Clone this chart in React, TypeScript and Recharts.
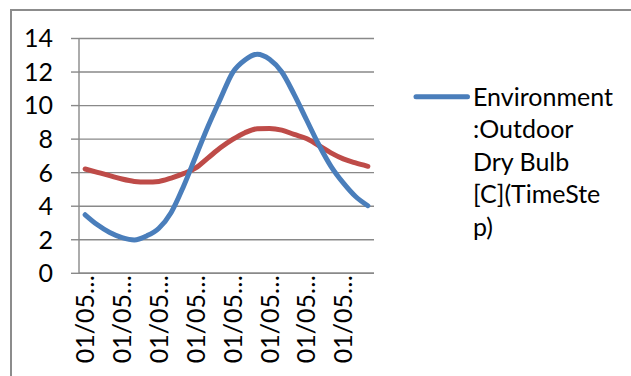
import React from 'react';
import { LineChart, Line, XAxis, YAxis, CartesianGrid, Legend } from 'recharts';

const categories = [
  '01/05  01:00:00', '01/05  02:00:00', '01/05  03:00:00', '01/05  04:00:00',
  '01/05  05:00:00', '01/05  06:00:00', '01/05  07:00:00', '01/05  08:00:00',
  '01/05  09:00:00', '01/05  10:00:00', '01/05  11:00:00', '01/05  12:00:00',
  '01/05  13:00:00', '01/05  14:00:00', '01/05  15:00:00', '01/05  16:00:00',
  '01/05  17:00:00', '01/05  18:00:00', '01/05  19:00:00', '01/05  20:00:00',
  '01/05  21:00:00', '01/05  22:00:00', '01/05  23:00:00', '01/05  24:00:00',
];
const outdoorDryBulb = [
  3.49, 2.89, 2.43, 2.13, 1.99, 2.23, 2.69, 3.63, 5.18, 6.98, 8.77, 10.4,
  11.97, 12.72, 13.06, 12.76, 12.0, 10.67, 9.17, 7.68, 6.38, 5.39, 4.58, 4.03,
];
const secondSeries = [
  6.22, 6.02, 5.82, 5.62, 5.48, 5.44, 5.48, 5.68, 5.94, 6.28, 6.88, 7.48,
  7.98, 8.38, 8.62, 8.64, 8.54, 8.28, 8.04, 7.62, 7.18, 6.82, 6.58, 6.38,
];
const yTicks = [0, 2, 4, 6, 8, 10, 12, 14];
const boundaryTicks = categories.map((_, i) => i).concat([categories.length]);
const labelTicks = categories.map((_, i) => i).filter((i) => i % 3 === 0).map((i) => i + 0.5);
const seriesName = 'Environment:Outdoor Dry Bulb [C](TimeStep)';
const legendLines = ['Environment', ':Outdoor', 'Dry Bulb', '[C](TimeSte', 'p)'];

const data = categories.map((c, i) => ({
  t: i + 0.5,
  label: c,
  blue: outdoorDryBulb[i],
  red: secondSeries[i],
}));

const BLUE = '#4A7EBB';
const RED = '#BE4B48';
const GRAY = '#898989';
const FONT = 'Lato, "Open Sans", sans-serif';
const FS = 25;

const RotatedTick = (props: any) => {
  const { x, y, payload } = props;
  const full = categories[Math.floor(payload.value)] || '';
  const text = full.slice(0, 5) + '\u2026';
  return (
    <text
      x={x}
      y={y + 1}
      transform={`rotate(-90, ${x}, ${y + 1})`}
      textAnchor="end"
      dy="0.36em"
      fontFamily={FONT}
      fontSize={FS}
      fill="#000"
    >
      {text}
    </text>
  );
};

const renderLegend = () => (
  <svg width={220} height={170}>
    <line x1={7} y1={16.7} x2={58.5} y2={16.7} stroke={BLUE} strokeWidth={5} strokeLinecap="round" />
    {legendLines.map((l, i) => (
      <text key={i} x={64} y={16.7 + i * 32.5} dy="0.36em" fontFamily={FONT} fontSize={FS} fill="#000">
        {l}
      </text>
    ))}
  </svg>
);

export default function App() {
  return (
    <div style={{ position: 'absolute', left: 0, top: 0, width: 631, height: 376, background: '#fff', overflow: 'hidden' }}>
      <div
        style={{
          position: 'absolute',
          left: 10,
          top: 9,
          width: 621,
          height: 367,
          borderLeft: '2px solid #8c8c8c',
          borderTop: '2px solid #8c8c8c',
          boxSizing: 'border-box',
        }}
      />
      <div style={{ position: 'absolute', left: 0, top: 0 }}>
        <LineChart width={631} height={376} data={data} margin={{ top: 38.5, right: 257, bottom: 11.7, left: 0 }}>
          <CartesianGrid xAxisId="grid" vertical={false} stroke={GRAY} strokeWidth={1.4} />
          <XAxis
            xAxisId="grid"
            dataKey="t"
            type="number"
            domain={[0, categories.length]}
            ticks={boundaryTicks}
            interval={0}
            tick={false}
            tickSize={6}
            height={1}
            axisLine={{ stroke: GRAY, strokeWidth: 1.4 }}
            tickLine={{ stroke: GRAY, strokeWidth: 1.4 }}
          />
          <XAxis
            xAxisId="labels"
            dataKey="t"
            type="number"
            domain={[0, categories.length]}
            ticks={labelTicks}
            interval={0}
            tick={<RotatedTick />}
            tickSize={0}
            tickMargin={0}
            height={90}
            axisLine={false}
            tickLine={false}
          />
          <YAxis
            type="number"
            domain={[0, 14]}
            ticks={yTicks}
            interval={0}
            width={79}
            tickSize={8}
            tickMargin={18}
            axisLine={{ stroke: GRAY, strokeWidth: 1.4 }}
            tickLine={{ stroke: GRAY, strokeWidth: 1.4 }}
            tick={{ fontFamily: FONT, fontSize: FS, fill: '#000' }}
          />
          <Legend
            layout="vertical"
            align="center"
            verticalAlign="middle"
            content={renderLegend}
            wrapperStyle={{ position: 'absolute', left: 409, top: 80, width: 220, height: 170 }}
          />
          <Line
            xAxisId="grid"
            type="monotone"
            dataKey="red"
            name="Series 2"
            stroke={RED}
            strokeWidth={5}
            strokeLinecap="round"
            dot={false}
            activeDot={false}
            isAnimationActive={false}
          />
          <Line
            xAxisId="grid"
            type="monotone"
            dataKey="blue"
            name={seriesName}
            stroke={BLUE}
            strokeWidth={5}
            strokeLinecap="round"
            dot={false}
            activeDot={false}
            isAnimationActive={false}
          />
        </LineChart>
      </div>
    </div>
  );
}
